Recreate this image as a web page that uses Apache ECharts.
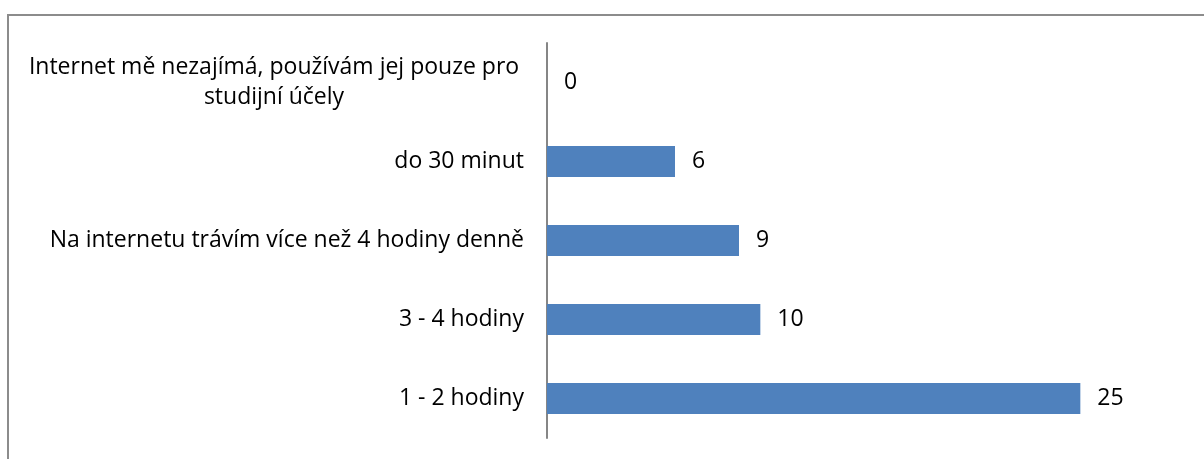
<!DOCTYPE html>
<html lang="cs">
<head>
<meta charset="utf-8">
<title>Čas strávený na internetu</title>
<script src="https://cdn.jsdelivr.net/npm/echarts@6/dist/echarts.min.js"></script>
<style>
	html, body { margin: 0; padding: 0; background: #fff; }
	#frame {
		position: absolute; left: 7px; top: 14px; right: 0; bottom: 0;
		border-top: 2px solid #8c8c8c; border-left: 2px solid #8c8c8c;
	}
	#chart { position: absolute; left: 0; top: 0; width: 1204px; height: 459px; }
</style>
</head>
<body>
<div id="frame"></div>
<div id="chart"></div>
<script>
	// kategorie odspodu nahoru
	var categories = ['1 - 2 hodiny', '3 - 4 hodiny', 'Na internetu trávím více než 4 hodiny denně', 'do 30 minut',
		'Internet mě nezajímá, používám jej pouze pro\nstudijní účely'];
	var values = [25, 10, 9, 6, 0];

	var myChart = echarts.init(document.getElementById('chart'));
	var font = '"Open Sans", sans-serif';

	// zalomený popisek je v Excelu centrovaný
	var yData = categories.map(function (c) {
		if (c.indexOf('\n') < 0) return c;
		return { value: c, textStyle: { align: 'center', padding: [0, 500, 0, 0] } };
	});

	var option = {
		animation: false,
		grid: { left: 547, right: 17, top: 43, bottom: 21 },
		xAxis: {
			type: 'value',
			min: 0,
			max: 30,
			show: false
		},
		yAxis: {
			type: 'category',
			data: yData,
			axisLine: { show: true, lineStyle: { color: '#868686', width: 2 } },
			axisTick: { show: false },
			axisLabel: {
				margin: 23,
				color: '#000',
				fontFamily: font,
				fontSize: 23,
				lineHeight: 30
			}
		},
		series: [{
			type: 'bar',
			data: values,
			barWidth: 31,
			itemStyle: { color: '#4F81BD' },
			label: {
				show: true,
				position: 'right',
				distance: 17,
				color: '#000',
				fontFamily: font,
				fontSize: 23
			}
		}]
	};
	myChart.setOption(option);
</script>
</body>
</html>
